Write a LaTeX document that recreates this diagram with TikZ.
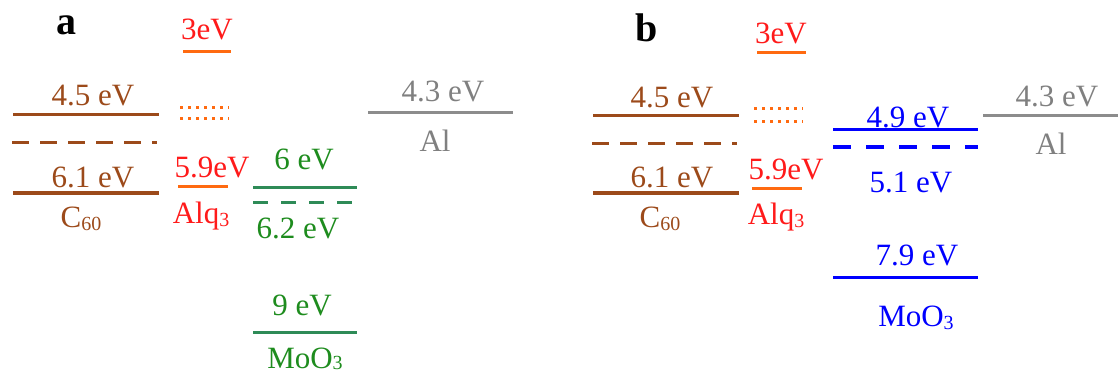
\documentclass[tikz,border=0pt]{standalone}
\usepackage{fontspec}
\setmainfont{Liberation Serif}
\definecolor{cbrown}{HTML}{9C4A1A}
\definecolor{corange}{HTML}{FF6A10}
\definecolor{cred}{HTML}{FF1A1A}
\definecolor{cgreenl}{HTML}{2E8B57}
\definecolor{cgreent}{HTML}{1E8C1E}
\definecolor{cgray}{HTML}{8C8C8C}
\definecolor{cgrayt}{HTML}{808080}
\definecolor{cblue}{HTML}{0000FF}
\newcommand{\sbs}[1]{\raisebox{-3pt}{\fontsize{20}{22}\selectfont #1}}
\newcommand{\sbsb}[1]{\raisebox{-1pt}{\fontsize{20}{22}\selectfont #1}}
\begin{document}
\begin{tikzpicture}[x=1pt,y=-1pt,
  lbl/.style={anchor=base,inner sep=0pt,font=\fontsize{31}{36}\selectfont},
  panel/.style={anchor=base,inner sep=0pt,font=\fontsize{40}{42}\selectfont\bfseries},
  lvl/.style={line width=3pt},
  dashlvl/.style={line width=3pt,dash pattern=on 17pt off 11pt},
  dotlvl/.style={line width=3pt,dash pattern=on 3pt off 5pt,corange}]
\useasboundingbox (0,0) rectangle (1118,374);
% ---------------- panel a ----------------
\node[panel] (la) at (66,35) {a};
% C60
\draw[lvl,cbrown] (13,115) -- (159,115);
\draw[dashlvl,cbrown] (12,143) -- (157,143);
\draw[lvl,cbrown] (13,193) -- (159,193);
\node[lbl,text=cbrown] (a45) at (93,106) {4.5 eV};
\node[lbl,text=cbrown] (a61) at (93,187) {6.1 eV};
\node[lbl,text=cbrown] (aC) at (81,227) {C\sbs{60}};
% Alq3
\draw[lvl,corange] (183,52) -- (231,52);
\draw[dotlvl] (180,108) -- (229,108);
\draw[dotlvl] (180,119) -- (229,119);
\draw[lvl,corange] (178,187) -- (228,187);
\node[lbl,text=cred] (a3) at (207,40) {3eV};
\node[lbl,text=cred] (a59) at (212,178) {5.9eV};
\node[lbl,text=cred] (aAlq) at (201,223) {Alq\sbs{3}};
% MoO3
\draw[lvl,cgreenl] (253,188) -- (357,188);
\draw[line width=3pt,dash pattern=on 15pt off 13pt,cgreenl] (253,202) -- (353,202);
\draw[lvl,cgreenl] (253,332) -- (357,332);
\node[lbl,text=cgreent] (a6) at (304,170) {6 eV};
\node[lbl,text=cgreent] (a62) at (298,238) {6.2 eV};
\node[lbl,text=cgreent] (a9) at (302,315) {9 eV};
\node[lbl,text=cgreent] (aMo) at (305,368) {MoO\sbsb{3}};
% Al
\draw[lvl,cgray] (368,113) -- (513,113);
\node[lbl,text=cgrayt] (a43) at (443,102) {4.3 eV};
\node[lbl,text=cgrayt] (aAl) at (435,152) {Al};
% ---------------- panel b ----------------
\node[panel] (lb) at (647,42) {b};
% C60
\draw[lvl,cbrown] (593,116) -- (739,116);
\draw[dashlvl,cbrown] (592,144) -- (737,144);
\draw[lvl,cbrown] (593,193) -- (739,193);
\node[lbl,text=cbrown] (b45) at (672,108) {4.5 eV};
\node[lbl,text=cbrown] (b61) at (672,188) {6.1 eV};
\node[lbl,text=cbrown] (bC) at (660,227) {C\sbs{60}};
% Alq3
\draw[lvl,corange] (757,53) -- (806,53);
\draw[dotlvl] (754,109) -- (803,109);
\draw[dotlvl] (754,122) -- (803,122);
\draw[lvl,corange] (752,189) -- (802,189);
\node[lbl,text=cred] (b3) at (781,44) {3eV};
\node[lbl,text=cred] (b59) at (786,180) {5.9eV};
\node[lbl,text=cred] (bAlq) at (776,224) {Alq\sbs{3}};
% MoO3
\draw[lvl,cblue] (833,130) -- (978,130);
\draw[line width=4pt,dash pattern=on 18pt off 15pt,cblue] (833,147) -- (978,147);
\draw[lvl,cblue] (833,277) -- (978,277);
\node[lbl,text=cblue] (b49) at (908,128) {4.9 eV};
\node[lbl,text=cblue] (b51) at (911,193) {5.1 eV};
\node[lbl,text=cblue] (b79) at (917,265) {7.9 eV};
\node[lbl,text=cblue] (bMo) at (916,326) {MoO\sbs{3}};
% Al
\draw[lvl,cgray] (983,116) -- (1118,116);
\node[lbl,text=cgrayt] (b43) at (1057,107) {4.3 eV};
\node[lbl,text=cgrayt] (bAl) at (1051,155) {Al};
\end{tikzpicture}
\end{document}
